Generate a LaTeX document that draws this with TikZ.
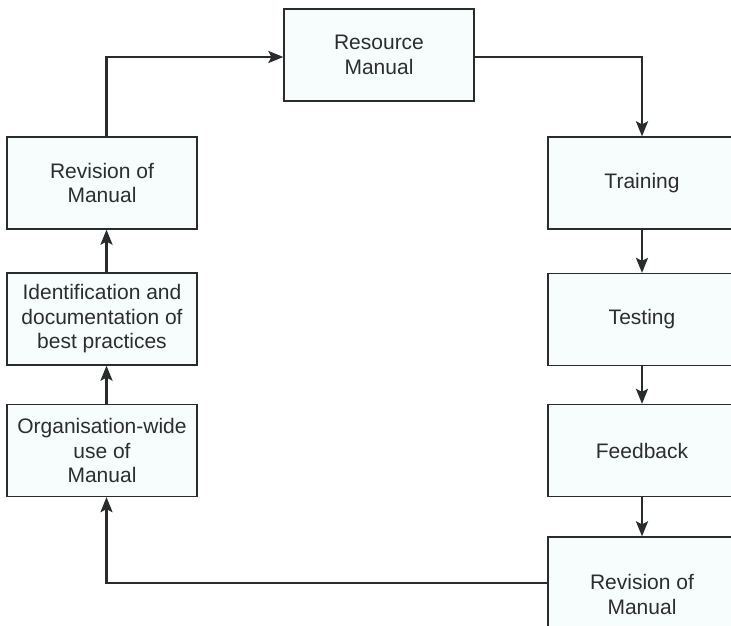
\documentclass[tikz,border=0pt]{standalone}
\usepackage{fontspec}
\setmainfont{Liberation Sans}
\usetikzlibrary{arrows.meta}
\definecolor{boxfill}{RGB}{247,252,253}
\definecolor{ink}{RGB}{40,44,44}
\definecolor{txt}{RGB}{45,45,45}
\begin{document}
\begin{tikzpicture}[x=1pt,y=-1pt,
  box/.style={draw=ink,line width=1.3pt,fill=boxfill,minimum width=190pt,minimum height=92pt,
    inner sep=0pt,align=center,text=txt,font=\fontsize{21}{24.5}\selectfont},
  arr/.style={draw=ink,line width=2.2pt,-{Stealth[length=15pt,width=12pt,inset=3pt]}}]
\clip (0,0) rectangle (731,626);
\fill[white] (0,0) rectangle (731,626);
\node[box] (rm) at (379,55) {Resource\\Manual};
\node[box] (l1) at (102,183) {Revision of\\Manual};
\node[box] (l2) at (102,319) {Identification and\\documentation of\\best practices};
\node[box] (l3) at (102,450.5) {Organisation-wide\\use of\\Manual};
\node[box,minimum width=188pt] (r1) at (642,183) {Training};
\node[box,minimum width=188pt] (r2) at (642,319.5) {Testing};
\node[box,minimum width=188pt] (r3) at (642,450.5) {Feedback};
\node[box,minimum width=188pt,minimum height=115pt] (r4) at (642,594.5) {Revision of\\Manual};
\coordinate (lx) at (106.5,0);
\coordinate (rx) at (642,0);
\coordinate (top) at (0,57);
\coordinate (bot) at (0,583);
\draw[arr] (l1.north -| lx) -- (lx |- top) -- (rm.west |- top);
\draw[arr] (rm.east |- top) -- (rx |- top) -- (r1.north -| rx);
\draw[arr] (r1.south -| rx) -- (r2.north -| rx);
\draw[arr] (r2.south -| rx) -- (r3.north -| rx);
\draw[arr] (r3.south -| rx) -- (r4.north -| rx);
\draw[arr] (r4.west |- bot) -- (lx |- bot) -- (l3.south -| lx);
\draw[arr] (l3.north -| lx) -- (l2.south -| lx);
\draw[arr] (l2.north -| lx) -- (l1.south -| lx);
\end{tikzpicture}
\end{document}
